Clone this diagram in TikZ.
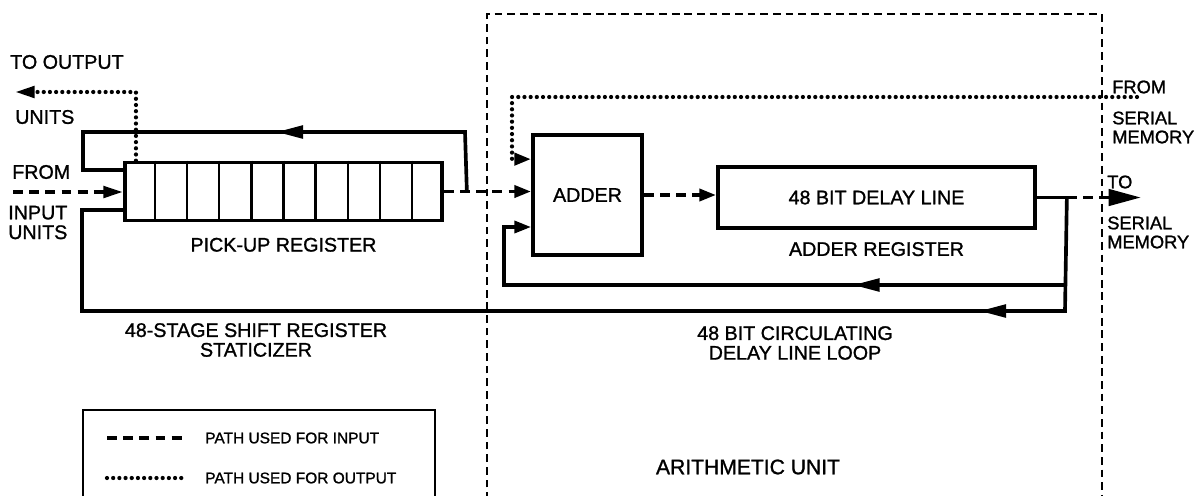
\documentclass[tikz,border=0pt]{standalone}
\usepackage{fontspec}
\setmainfont{Liberation Sans}[FakeBold=1.2]
\usetikzlibrary{arrows.meta,positioning,calc,decorations.markings}
\newcommand\lblfont{\fontsize{14}{14}\selectfont}
\newcommand\sidefont{\fontsize{13}{13.5}\selectfont}
\newcommand\keyfont{\fontsize{11}{13}\selectfont}
\tikzset{
  regbox/.style={draw,line width=2.6pt,inner sep=0pt,font=\lblfont},
  cellline/.style={line width=1.6pt},
  loopline/.style={line width=2.6pt},
  inpath/.style={line width=2.8pt,dash pattern=on 7pt off 4.5pt},
  outpath/.style={line width=3pt,line cap=round,dash pattern=on 0pt off 4.4pt},
  unitframe/.style={line width=1pt,dash pattern=on 5.5pt off 3.5pt},
  keyframe/.style={line width=1.3pt},
  lbl/.style={inner sep=0pt,font=\lblfont,align=left},
  inarrow/.style={-{Triangle[length=14pt,width=8pt]}},
  addarrow/.style={-{Triangle[length=12pt,width=8.5pt]}},
  bigarrow/.style={-{Triangle[length=23pt,width=11.5pt]}},
  midarrow/.style={postaction={decorate},decoration={markings,
    mark=at position #1 with {\arrow{Triangle[length=19pt,width=9pt]}}}},
}

\begin{document}
\begin{tikzpicture}[x=0.025cm,y=-0.025cm]
    \useasboundingbox (0,0) rectangle (1197,495);
    \draw[unitframe] (487,500) -- (487,14) -- (1102,14) -- (1102,500);
    \draw[keyframe] (83,500) |- (435,410) -- (435,500);

    \node[regbox,minimum width=7.925cm,minimum height=1.45cm] (reg) at (283.5,191.5) {};
    \foreach \i in {1,...,9}
        \draw[cellline] ($(reg.north west)!\i/10!(reg.north east)$) -- ($(reg.south west)!\i/10!(reg.south east)$);
    \node[lbl,below=0.38cm of reg] (regname) {PICK-UP REGISTER};
    \node[regbox,minimum width=2.725cm,minimum height=3cm] (adder) at (587.5,195) {ADDER};
    \node[regbox,minimum width=7.925cm,minimum height=1.525cm] (delay) at (876.5,197.5) {48 BIT DELAY LINE};
    \node[lbl,below=0.3cm of delay] (delayname) {ADDER REGISTER};

    \coordinate (inL) at (13,192);
    \coordinate (tapA) at ($(reg.east)+(23,0)$);
    \coordinate (topR) at (465,132);
    \coordinate (topL) at (83,132);
    \coordinate (inA) at (83,170);
    \coordinate (tapB) at ($(delay.east)+(30,0)$);
    \coordinate (botR) at (1065,311);
    \coordinate (botL) at (82,311);
    \coordinate (inB) at (82,210);
    \coordinate (tapC) at (1065,285);
    \coordinate (addL) at (504,285);
    \coordinate (addLU) at (504,227);
    \coordinate (outTap) at ($(reg.north west)!0.04!(reg.north east)$);
    \coordinate (outL) at (15,92);
    \coordinate (serIn) at (1137,97);
    \coordinate (serBend) at (512,97);
    \coordinate (addIn) at ($(adder.north west)!0.21!(adder.south west)$);
    \coordinate (serOut) at (1141,197.5);

    \draw[inpath,inarrow] (inL) -- (inL -| reg.west);
    \draw[inpath,addarrow] (reg.east) -- (reg.east -| adder.west);
    \draw[inpath,addarrow] (adder.east) -- (adder.east -| delay.west);
    \draw[loopline] (delay.east) -- (tapB);
    \draw[inpath,bigarrow] (tapB) -- (serOut);
    \draw[loopline,midarrow=6.2cm] (tapA) -- (topR) -- (topL) -- (inA) -- (inA -| reg.west);
    \draw[loopline,midarrow=4.975cm] (tapB) -- (botR) -- (botL) -- (inB) -- (inB -| reg.west);
    \draw[loopline,midarrow=5.3cm,addarrow] (tapC) -- (addL) -- (addLU) -- (addLU -| adder.west);
    \draw[outpath,inarrow] (outTap) |- (outL);
    \draw[outpath,addarrow] (serIn) -- (serBend) |- (addIn);

    \node[lbl,anchor=west] (toout) at (10,62) {TO OUTPUT};
    \node[lbl,anchor=west] (outunits) at (15,117) {UNITS};
    \node[lbl,anchor=west] (fromin) at (12,172) {FROM};
    \node[lbl,anchor=west] (inunits) at (8,222.5) {INPUT\\UNITS};
    \node[lbl,font=\sidefont,anchor=west] (fromser) at (1112,87) {FROM};
    \node[lbl,font=\sidefont,anchor=west] (sermemA) at (1112,127.5) {SERIAL\\MEMORY};
    \node[lbl,font=\sidefont,anchor=west] (toser) at (1107,182) {TO};
    \node[lbl,font=\sidefont,anchor=west] (sermemB) at (1107,232.5) {SERIAL\\MEMORY};
    \node[lbl,align=center] (statname) at (256,340) {48-STAGE SHIFT REGISTER\\STATICIZER};
    \node[lbl,align=center] (loopname) at (795,343) {48 BIT CIRCULATING\\DELAY LINE LOOP};
    \node[lbl,font=\fontsize{15}{15}\selectfont] (arithname) at (748,467) {ARITHMETIC UNIT};

    \coordinate (keyA1) at (107,438);
    \coordinate (keyA2) at (182,438);
    \coordinate (keyB1) at (107,478);
    \coordinate (keyB2) at (182,478);
    \draw[inpath] (keyA1) -- (keyA2);
    \draw[outpath] (keyB1) -- (keyB2);
    \node[lbl,font=\keyfont,anchor=west] (keyinput) at (205,438) {PATH USED FOR INPUT};
    \node[lbl,font=\keyfont,anchor=west] (keyoutput) at (205,478) {PATH USED FOR OUTPUT};
\end{tikzpicture}
\end{document}
